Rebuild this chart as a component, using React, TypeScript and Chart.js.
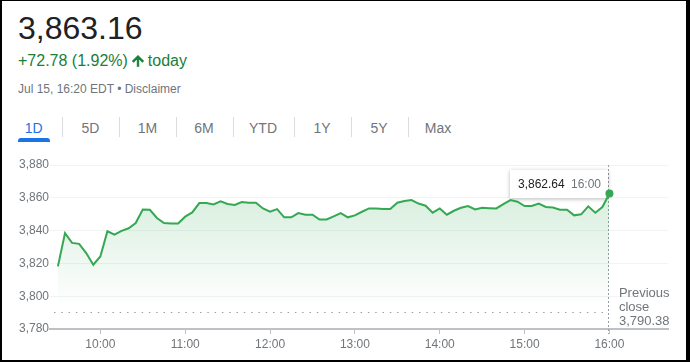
import React, { useEffect, useRef } from "react";
import { Chart, registerables } from "chart.js";

Chart.register(...registerables);

const FONT = 'Arial, "Liberation Sans", Helvetica, sans-serif';

// ---------- data ----------
const STEP_MINUTES = 5; // one point every 5 minutes from 9:30
const values: number[] = [
  3818.2, 3838.4, 3832.5, 3831.9, 3826.3, 3819.2, 3824.2, 3839.6, 3837.6, 3839.8,
  3841.4, 3844.6, 3852.9, 3852.7, 3847.7, 3844.6, 3844.4, 3844.4, 3848.5, 3851.1,
  3856.8, 3856.8, 3856.0, 3857.8, 3856.2, 3855.6, 3857.4, 3857.0, 3857.0, 3853.5,
  3851.6, 3853.1, 3848.1, 3848.1, 3850.7, 3849.7, 3849.7, 3846.7, 3846.8, 3848.7,
  3850.7, 3848.1, 3849.3, 3851.5, 3853.5, 3853.5, 3853.1, 3853.1, 3857.0, 3858.0,
  3858.6, 3856.5, 3855.2, 3850.9, 3853.5, 3849.7, 3852.1, 3853.9, 3855.0, 3852.9,
  3853.9, 3853.7, 3853.5, 3856.2, 3858.6, 3857.6, 3855.0, 3855.0, 3856.5, 3854.4,
  3854.1, 3852.7, 3852.7, 3849.3, 3849.9, 3854.8, 3850.9, 3854.4, 3862.64,
];
const yTicks: number[] = [3780, 3800, 3820, 3840, 3860, 3880];
const xTickMinutes: number[] = [30, 90, 150, 210, 270, 330, 390];
const xTickLabels: string[] = ["10:00", "11:00", "12:00", "13:00", "14:00", "15:00", "16:00"];
const tabs: string[] = ["1D", "5D", "1M", "6M", "YTD", "1Y", "5Y", "Max"];
const PREV_CLOSE = 3790.38;
const PRICE = "3,863.16";
const CHANGE = "+72.78 (1.92%)";
const DATE_LINE = "Jul 15, 16:20 EDT • Disclaimer";
const LAST_TIME = "16:00";

// ---------- layout constants ----------
const tabCenters = [33.7, 90.5, 147.5, 204, 263, 322, 379, 438];
const tabSeparators = [62, 119, 176, 233, 294, 351, 408];

const GREEN = "#34a853";
const GREY = "#70757a";

const fmt2 = (v: number) =>
  v.toLocaleString("en-US", { minimumFractionDigits: 2, maximumFractionDigits: 2 });

const overlayPlugin = {
  id: "overlay",
  beforeDatasetsDraw(chart: any) {
    const { ctx, chartArea, scales } = chart;
    const x = scales.x;
    const y = scales.y;
    const lastMin = (values.length - 1) * STEP_MINUTES;
    const lx = Math.round(x.getPixelForValue(lastMin)) - 0.5;
    const py = Math.round(y.getPixelForValue(PREV_CLOSE)) + 0.5;
    ctx.save();
    // previous close dotted line
    ctx.strokeStyle = "#9aa0a6";
    ctx.lineWidth = 1;
    ctx.setLineDash([1.5, 5.8]);
    ctx.beginPath();
    ctx.moveTo(chartArea.left + 4, py);
    ctx.lineTo(lx - 2, py);
    ctx.stroke();
    // vertical dashed line at last point
    ctx.setLineDash([2, 2]);
    ctx.beginPath();
    ctx.moveTo(lx, chartArea.top);
    ctx.lineTo(lx, chartArea.bottom + 5);
    ctx.stroke();
    ctx.setLineDash([]);
    // tooltip box
    const bw = 98;
    const bh = 28;
    const bx = lx - 0.5 - bw;
    const by = chartArea.top + 5;
    ctx.shadowColor = "rgba(0,0,0,0.28)";
    ctx.shadowBlur = 4;
    ctx.shadowOffsetY = 1;
    ctx.fillStyle = "#ffffff";
    ctx.beginPath();
    ctx.rect(bx, by, bw, bh);
    ctx.fill();
    ctx.shadowColor = "transparent";
    ctx.shadowBlur = 0;
    ctx.shadowOffsetY = 0;
    ctx.font = `12px ${FONT}`;
    ctx.textBaseline = "alphabetic";
    ctx.textAlign = "left";
    ctx.fillStyle = "#202124";
    ctx.fillText(fmt2(values[values.length - 1]), bx + 8, by + 18);
    ctx.textAlign = "right";
    ctx.fillStyle = GREY;
    ctx.fillText(LAST_TIME, bx + bw - 7, by + 18);
    ctx.restore();
  },
  afterDraw(chart: any) {
    const { ctx, chartArea, scales } = chart;
    const lastMin = (values.length - 1) * STEP_MINUTES;
    const lx = scales.x.getPixelForValue(lastMin);
    ctx.save();
    ctx.font = `13px ${FONT}`;
    ctx.fillStyle = GREY;
    ctx.textAlign = "left";
    ctx.textBaseline = "alphabetic";
    const tx = lx + 9.5;
    ctx.fillText("Previous", tx, chartArea.bottom - 32);
    ctx.fillText("close", tx, chartArea.bottom - 18.5);
    ctx.fillText(fmt2(PREV_CLOSE), tx, chartArea.bottom - 4);
    ctx.restore();
  },
};

function ChartCanvas() {
  const ref = useRef<HTMLCanvasElement | null>(null);
  useEffect(() => {
    if (!ref.current) return;
    const pts = values.map((v, i) => ({ x: i * STEP_MINUTES, y: v }));
    const last = values.length - 1;
    const chart = new Chart(ref.current, {
      type: "line",
      data: {
        datasets: [
          {
            data: pts,
            borderColor: GREEN,
            borderWidth: 2,
            tension: 0,
            fill: "start",
            pointRadius: (c: any) => (c.dataIndex === last ? 4 : 0),
            pointHoverRadius: 0,
            pointBackgroundColor: GREEN,
            pointBorderWidth: 0,
            backgroundColor: (c: any) => {
              const ca = c.chart.chartArea;
              if (!ca) return "rgba(52,168,83,0.12)";
              const g = c.chart.ctx.createLinearGradient(0, ca.top, 0, ca.top + 142);
              g.addColorStop(0, "rgba(52,168,83,0.24)");
              g.addColorStop(1, "rgba(52,168,83,0)");
              return g;
            },
          } as any,
        ],
      },
      options: {
        responsive: false,
        maintainAspectRatio: false,
        animation: false,
        events: [],
        layout: { padding: { left: 0, right: 22, top: 15, bottom: 0 } },
        plugins: { legend: { display: false }, tooltip: { enabled: false } },
        scales: {
          x: {
            type: "linear",
            min: -5.6,
            max: 431.4,
            afterBuildTicks: (s: any) => {
              s.ticks = xTickMinutes.map((v) => ({ value: v }));
            },
            afterFit: (s: any) => {
              s.height = 33;
            },
            ticks: {
              autoSkip: false,
              maxRotation: 0,
              padding: 3,
              color: GREY,
              font: { family: FONT, size: 12 },
              callback: (v: any) => {
                const i = xTickMinutes.indexOf(Number(v));
                return i >= 0 ? xTickLabels[i] : "";
              },
            },
            grid: {
              drawOnChartArea: false,
              drawTicks: true,
              tickLength: 5,
              tickColor: "#bdc1c6",
              tickWidth: 1,
            },
            border: { display: true, color: "#bdc1c6", width: 2 },
          },
          y: {
            min: 3780,
            max: 3880,
            afterBuildTicks: (s: any) => {
              s.ticks = yTicks.map((v) => ({ value: v }));
            },
            afterFit: (s: any) => {
              s.width = 50;
            },
            ticks: {
              padding: 1,
              color: GREY,
              font: { family: FONT, size: 12 },
              callback: (v: any) => Number(v).toLocaleString("en-US"),
            },
            grid: { color: "#f1f3f4", drawTicks: false, lineWidth: 1 },
            border: { display: false },
          },
        },
      } as any,
      plugins: [overlayPlugin],
    });
    return () => chart.destroy();
  }, []);
  return (
    <canvas
      ref={ref}
      width={690}
      height={212}
      style={{ position: "absolute", left: 0, top: 150, width: 690, height: 212 }}
    />
  );
}

export default function App() {
  return (
    <div
      style={{
        position: "fixed",
        left: 0,
        top: 0,
        width: 690,
        height: 362,
        background: "#ffffff",
        fontFamily: FONT,
        overflow: "hidden",
      }}
    >
      <div
        style={{
          position: "absolute",
          left: 18,
          top: 12,
          fontSize: 32,
          lineHeight: "32px",
          color: "#202124",
          whiteSpace: "nowrap",
        }}
      >
        {PRICE}
      </div>
      <div
        style={{
          position: "absolute",
          left: 18,
          top: 53,
          fontSize: 16,
          lineHeight: "16px",
          color: "#188038",
          whiteSpace: "nowrap",
        }}
      >
        {CHANGE}
        <svg
          width={16}
          height={16}
          viewBox="0 0 24 24"
          style={{ verticalAlign: "-2.6px", marginLeft: 2, marginRight: 2 }}
        >
          <path
            fill="#188038"
            stroke="#188038"
            strokeWidth={1.6}
            strokeLinejoin="miter"
            d="M4 12l1.41 1.41L11 7.83V20h2V7.83l5.58 5.59L20 12l-8-8-8 8z"
          />
        </svg>
        today
      </div>
      <div
        style={{
          position: "absolute",
          left: 18,
          top: 82.5,
          fontSize: 12,
          lineHeight: "12px",
          color: GREY,
          whiteSpace: "nowrap",
        }}
      >
        {DATE_LINE}
      </div>
      {tabs.map((t, i) => (
        <div
          key={t}
          style={{
            position: "absolute",
            left: tabCenters[i] - 30,
            width: 60,
            top: 120.5,
            fontSize: 14,
            lineHeight: "14px",
            textAlign: "center",
            color: i === 0 ? "#1a73e8" : GREY,
          }}
        >
          {t}
        </div>
      ))}
      {tabSeparators.map((x) => (
        <div
          key={x}
          style={{
            position: "absolute",
            left: x,
            top: 117,
            width: 1,
            height: 20,
            background: "#dadce0",
          }}
        />
      ))}
      <div
        style={{
          position: "absolute",
          left: 18,
          top: 138,
          width: 32,
          height: 4,
          background: "#1a73e8",
          borderRadius: "3px 3px 0 0",
        }}
      />
      <ChartCanvas />
      <div
        style={{
          position: "absolute",
          left: 0,
          top: 0,
          width: 690,
          height: 362,
          boxSizing: "border-box",
          borderStyle: "solid",
          borderColor: "#000000",
          borderWidth: "1px 4px 2px 2px",
          pointerEvents: "none",
        }}
      />
    </div>
  );
}
